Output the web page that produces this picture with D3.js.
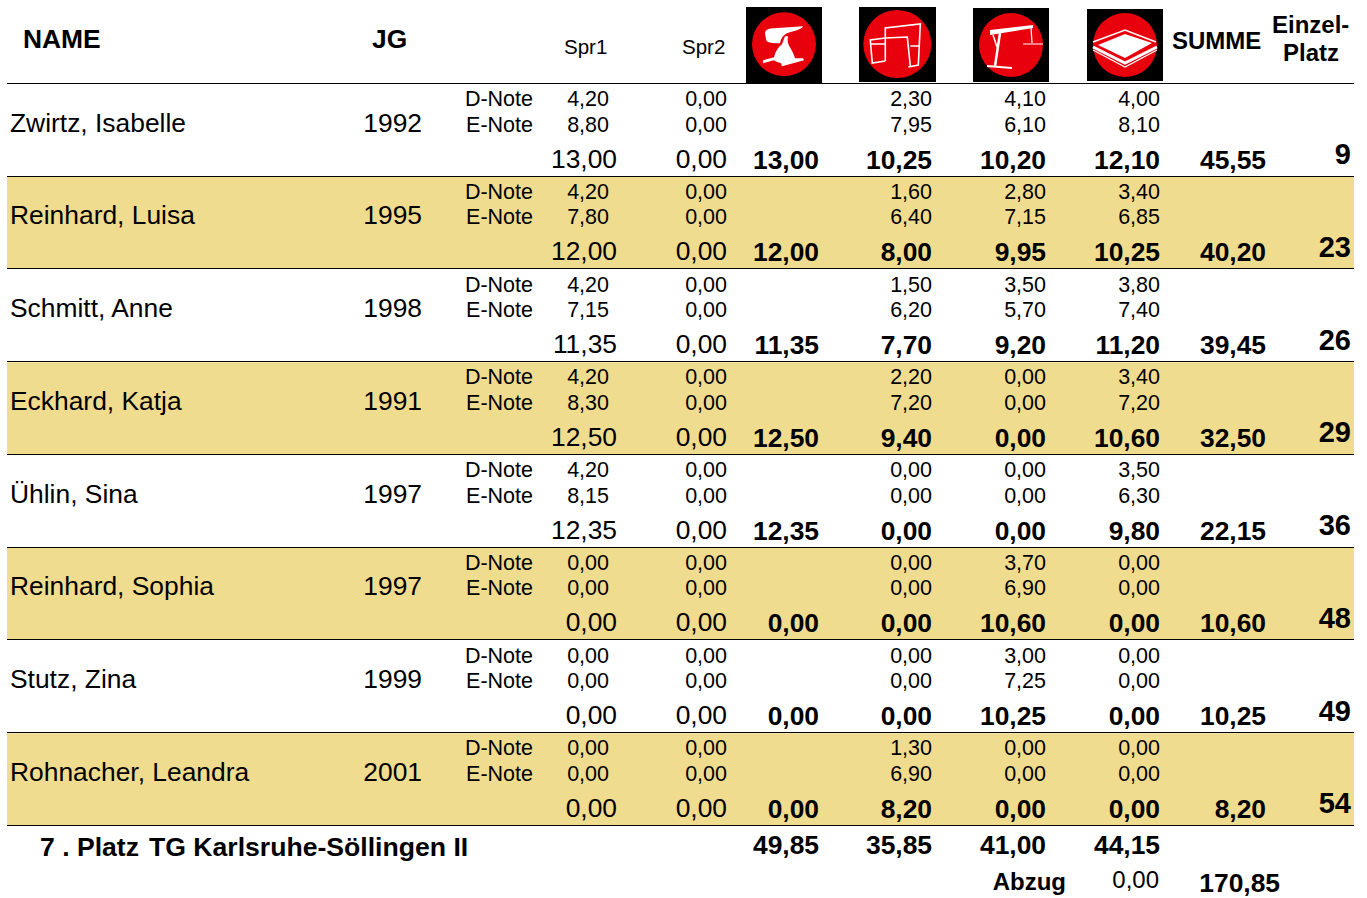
<!DOCTYPE html>
<html>
<head>
<meta charset="utf-8">
<script src="https://cdn.jsdelivr.net/npm/d3@7"></script>
<style>
	html, body { margin: 0; padding: 0; background: #fff; overflow: hidden; }
	text { font-family: "Liberation Sans", Arial, sans-serif; fill: #000; }
</style>
</head>
<body>
<svg id="chart" width="1367" height="898"></svg>
<script>
const names = ['Zwirtz, Isabelle', 'Reinhard, Luisa', 'Schmitt, Anne', 'Eckhard, Katja', 'Ühlin, Sina', 'Reinhard, Sophia', 'Stutz, Zina', 'Rohnacher, Leandra'];
const years = ['1992', '1995', '1998', '1991', '1997', '1997', '1999', '2001'];

const spr1D = [4.20, 4.20, 4.20, 4.20, 4.20, 0, 0, 0];
const spr1E = [8.80, 7.80, 7.15, 8.30, 8.15, 0, 0, 0];
const spr1Sum = [13.00, 12.00, 11.35, 12.50, 12.35, 0, 0, 0];
const spr2D = [0, 0, 0, 0, 0, 0, 0, 0];
const spr2E = [0, 0, 0, 0, 0, 0, 0, 0];
const spr2Sum = [0, 0, 0, 0, 0, 0, 0, 0];

const vaultSum = [13.00, 12.00, 11.35, 12.50, 12.35, 0, 0, 0];
const barsD = [2.30, 1.60, 1.50, 2.20, 0, 0, 0, 1.30];
const barsE = [7.95, 6.40, 6.20, 7.20, 0, 0, 0, 6.90];
const barsSum = [10.25, 8.00, 7.70, 9.40, 0, 0, 0, 8.20];
const beamD = [4.10, 2.80, 3.50, 0, 0, 3.70, 3.00, 0];
const beamE = [6.10, 7.15, 5.70, 0, 0, 6.90, 7.25, 0];
const beamSum = [10.20, 9.95, 9.20, 0, 0, 10.60, 10.25, 0];
const floorD = [4.00, 3.40, 3.80, 3.40, 3.50, 0, 0, 0];
const floorE = [8.10, 6.85, 7.40, 7.20, 6.30, 0, 0, 0];
const floorSum = [12.10, 10.25, 11.20, 10.60, 9.80, 0, 0, 0];

const totals = [45.55, 40.20, 39.45, 32.50, 22.15, 10.60, 10.25, 8.20];
const places = [9, 23, 26, 29, 36, 48, 49, 54];
const teamTotals = [49.85, 35.85, 41.00, 44.15];
const teamPlace = '7 . Platz';
const teamName = 'TG Karlsruhe-Söllingen II';
const deduction = 0;
const teamSum = 170.85;

const fmt = v => v.toFixed(2).replace('.', ',');
const svg = d3.select('#chart');

// one band per gymnast, columns are keyed by name
const y = d3.scaleBand().domain(d3.range(names.length)).range([83, 825]);
const x = d3.scaleOrdinal()
	.domain(['spr1', 'spr2', 'vault', 'bars', 'beam', 'floor', 'total', 'place'])
	.range([617, 727, 819, 932, 1046, 1160, 1266, 1351]);

function label(t, px, py, size, opts) {
	const o = opts || {};
	return svg.append('text')
		.attr('x', px).attr('y', py)
		.attr('font-size', size)
		.attr('font-weight', o.bold ? 'bold' : 'normal')
		.attr('text-anchor', o.anchor || 'start')
		.text(t);
}

// stripes
svg.append('g').selectAll('rect')
	.data(d3.range(names.length).filter(i => i % 2 === 1))
	.join('rect')
	.attr('x', 7).attr('width', 1347)
	.attr('y', i => y(i) + 1)
	.attr('height', y.bandwidth() - 1)
	.attr('fill', '#f0dc8f');

// rules
const ruleY = i => Math.round(y.range()[0] + i * y.step() - 0.01) + 0.5;
svg.append('g').selectAll('line')
	.data(d3.range(names.length + 1))
	.join('line')
	.attr('x1', 7).attr('x2', 1354)
	.attr('y1', ruleY)
	.attr('y2', ruleY)
	.attr('stroke', '#000').attr('stroke-width', 1.2);

// header
label('NAME', 23, 48, 26.4, { bold: true });
label('JG', 372, 48, 26.4, { bold: true });
label('Spr1', 564, 54, 20.5);
label('Spr2', 682, 54, 20.5);
label('SUMME', 1172, 49, 24, { bold: true });
label('Einzel-', 1272, 33, 24, { bold: true });
label('Platz', 1283, 61, 24, { bold: true });

// apparatus icons
function icon(cx, cy, left, top, right, bottom, r, draw) {
	svg.append('rect')
		.attr('x', left).attr('y', top)
		.attr('width', right - left).attr('height', bottom - top)
		.attr('fill', '#000');
	const g = svg.append('g').attr('transform', `translate(${cx},${cy})`);
	g.append('circle').attr('r', r).attr('fill', '#e8000d');
	draw(g);
}
const white = (g, d, sw) => g.append('path').attr('d', d)
	.attr('fill', sw ? 'none' : '#fff')
	.attr('stroke', sw ? '#fff' : 'none')
	.attr('stroke-width', sw || 0);

icon(784, 44.3, 746, 7, 822, 83, 32, g => {
	white(g, 'M-19,-11 C-19,-15 -14,-16 -10,-16 L19,-18 C19,-15 8,-13 3,-11 C-1,-9 -3,-6 -4,-1 C-10,-1 -18,-1 -18,-5 Z');
	white(g, 'M1,-8 L4,-8 C3,-3 4,0 6,3 C8,7 10,10 11,14 L19,14 L20,16 L-2,22 L-3,19 C-6,18 -9,17 -10,16 L-21,19 L-21,16 L-10,13 C-9,8 -6,3 -2,0 C-1,-3 0,-5 1,-8 Z');
});
icon(897.3, 44, 859, 7, 936, 82, 34, g => {
	white(g, 'M-12,17 L-12,-16 L23,-20 L21,21 L11,23 M13,22 L10,-7 L-12,-6 L-27,-4 L-25,19 L-12,17 M-27,0 L-12,0 M13,2 L22,2', 1.6);
});
icon(1011, 45, 973, 8, 1049, 82, 32, g => {
	white(g, 'M-21,-15 L22,-20 L22,-17 L-21,-10 Z');
	white(g, 'M-11,-12 L-16,21', 2.5);
	white(g, 'M-18,-10 L-14,2', 1.5);
	white(g, 'M-24,21 L1,23', 2);
	white(g, 'M20,-18 L21,-2', 1.3);
	white(g, 'M12,-1 L32,-1', 1);
});
icon(1125, 45, 1087, 9, 1163, 81, 32, g => {
	white(g, 'M-32,-3 L0,-15 L31,-3', 1.6);
	white(g, 'M-27,0 L0,-11 L27,-2 L0,13 Z');
	white(g, 'M-32,2 L0,18 L32,2', 3);
	white(g, 'M-32,5 L0,22 L32,5', 1.2);
});

// gymnast rows
const noteRows = [
	{ name: 'D-Note', dy: 23, cols: [['spr1', spr1D], ['spr2', spr2D], ['bars', barsD], ['beam', beamD], ['floor', floorD]] },
	{ name: 'E-Note', dy: 48.5, cols: [['spr1', spr1E], ['spr2', spr2E], ['bars', barsE], ['beam', beamE], ['floor', floorE]] }
];
const boldCols = [['vault', vaultSum], ['bars', barsSum], ['beam', beamSum], ['floor', floorSum], ['total', totals]];

names.forEach((name, i) => {
	const top = y(i);
	label(name, 10, top + 48.5, 26.4);
	label(years[i], 422, top + 48.5, 26.4, { anchor: 'end' });
	noteRows.forEach(row => {
		label(row.name, 533, top + row.dy, 21.5, { anchor: 'end' });
		row.cols.forEach(([key, vals]) => {
			label(fmt(vals[i]), x(key) - (key === 'spr1' ? 8 : 0), top + row.dy, 21.5, { anchor: 'end' });
		});
	});
	label(fmt(spr1Sum[i]), x('spr1'), top + 84.5, 26.4, { anchor: 'end' });
	label(fmt(spr2Sum[i]), x('spr2'), top + 84.5, 26.4, { anchor: 'end' });
	boldCols.forEach(([key, vals]) => {
		label(fmt(vals[i]), x(key), top + 85.5, 26.4, { anchor: 'end', bold: true });
	});
	label(places[i], x('place'), top + 81, 29, { anchor: 'end', bold: true });
});

// team footer
label(teamPlace, 40, 856, 26.6, { bold: true });
label(teamName, 149, 856, 26.6, { bold: true });
['vault', 'bars', 'beam', 'floor'].forEach((key, i) => {
	label(fmt(teamTotals[i]), x(key), 854, 26.4, { anchor: 'end', bold: true });
});
label('Abzug', 1066, 890, 24, { anchor: 'end', bold: true });
label(fmt(deduction), 1159, 888, 24, { anchor: 'end' });
label(fmt(teamSum), 1280, 892, 26.4, { anchor: 'end', bold: true });
</script>
</body>
</html>
